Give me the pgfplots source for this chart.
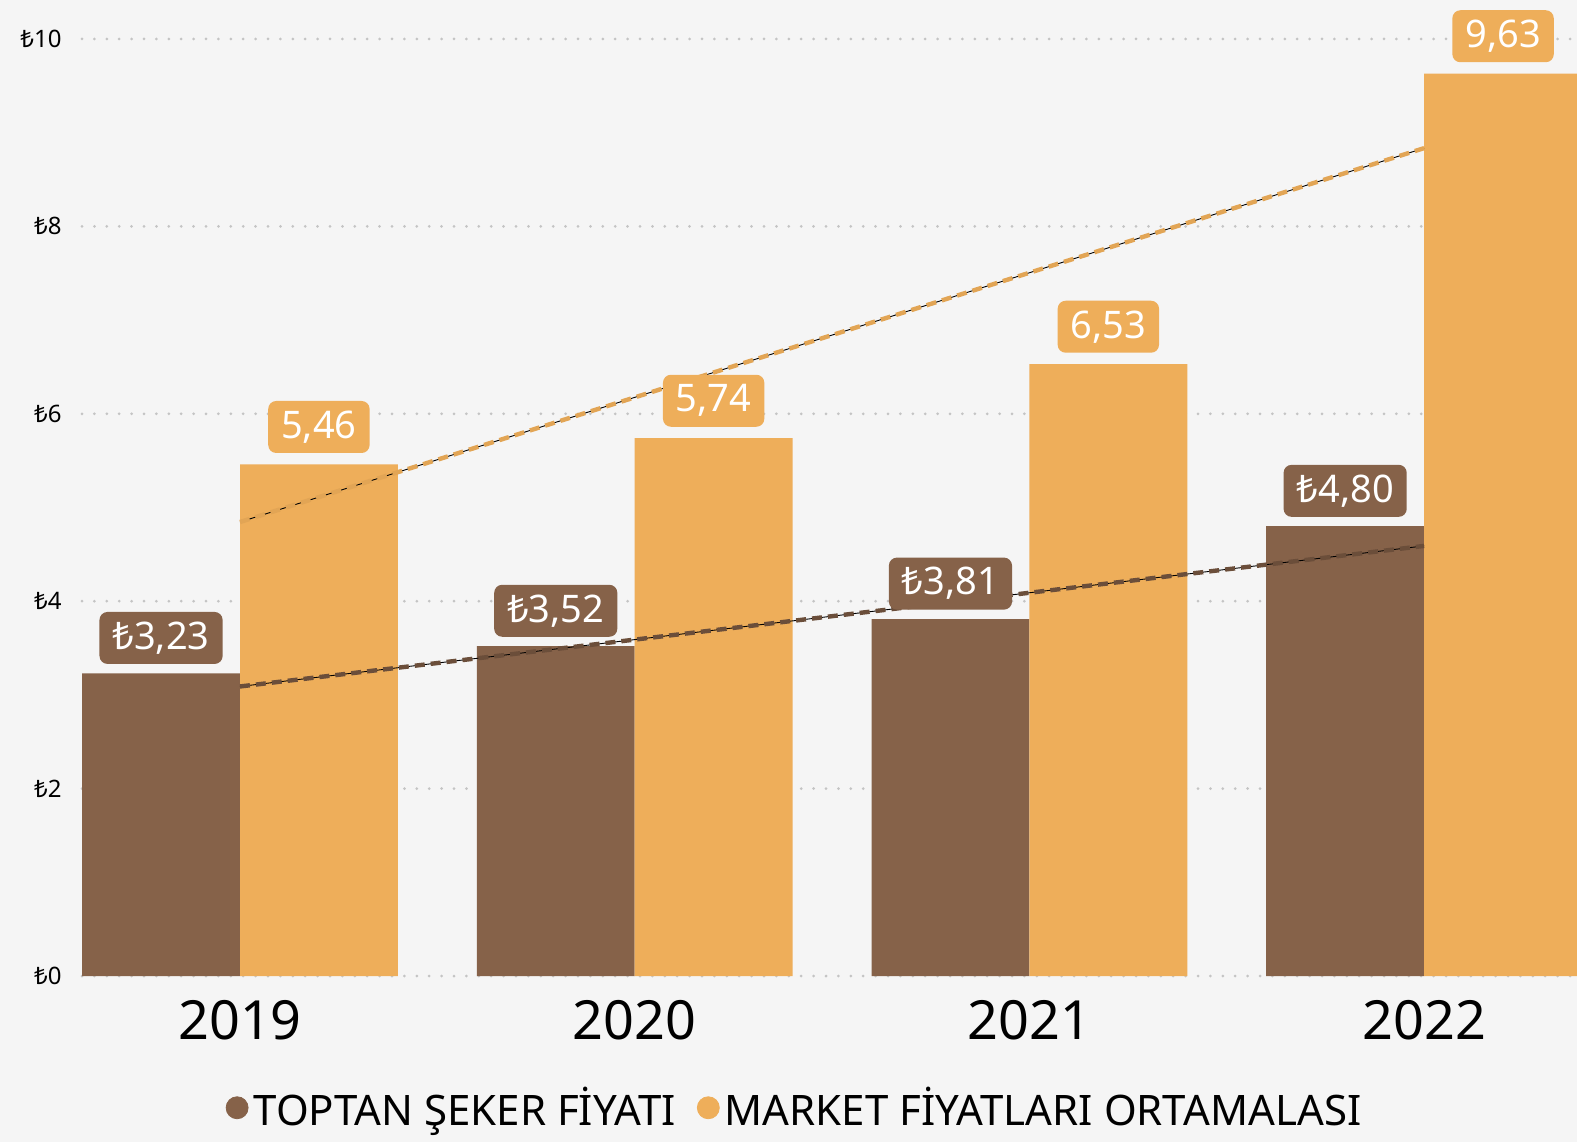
\documentclass[border=0pt]{standalone}
\usepackage{pgfplots}
\usepackage{pgfplotstable}
\pgfplotsset{compat=1.18}
\usepackage{fontspec}
\setmainfont{Noto Sans}
\definecolor{brownc}{HTML}{866249}
\definecolor{orangec}{HTML}{EEAE5A}
\definecolor{bgc}{HTML}{F5F5F5}
\definecolor{gridc}{HTML}{C4C4C4}
\pgfplotstableread{
x y lab
0 3.23 ₺3,23
1 3.52 ₺3,52
2 3.81 ₺3,81
3 4.80 ₺4,80
}\toptan
\pgfplotstableread{
x y lab
0 5.46 5,46
1 5.74 5,74
2 6.53 6,53
3 9.63 9,63
}\market
\begin{document}
\begin{tikzpicture}
\useasboundingbox (-41pt,-83pt) rectangle (747.5pt,488pt);
\fill[bgc] (-41pt,-83pt) rectangle (747.5pt,488pt);
\begin{axis}[
  at={(0,0)}, anchor=south west,
  scale only axis, width=747.5pt, height=488pt,
  xmin=-0.4003, xmax=3.3874, ymin=0, ymax=10.416,
  axis line style={draw=none}, major tick length=0pt, tick style={draw=none},
  ytick={0,2,4,6,8,10}, yticklabels={₺0,₺2,₺4,₺6,₺8,₺10},
  ymajorgrids, grid style={gridc, line width=1.5pt, line cap=round, dash pattern=on 0pt off 6.2pt},
  xtick={0,1,2,3}, xticklabels={2019,2020,2021,2022},
  xticklabel style={font=\fontsize{27}{32}\selectfont, inner sep=0pt, yshift=-12pt},
  yticklabel style={font=\fontsize{12}{14}\selectfont, inner sep=0pt, xshift=-10pt},
  bar width=0.4,
  legend entries={TOPTAN ŞEKER FİYATI, MARKET FİYATLARI ORTAMALASI},
  legend style={at={(0.4776,-0.135)}, anchor=center, draw=none, fill=none,
    legend columns=2, font=\fontsize{21}{25}\selectfont,
    nodes={inner xsep=2.5pt},
    /tikz/every even column/.append style={column sep=8pt}},
]
\addlegendimage{legend image code/.code={\fill[brownc] (0pt,0pt) circle (5.5pt);}}
\addlegendimage{legend image code/.code={\fill[orangec] (0pt,0pt) circle (5.5pt);}}
\addplot[ybar, bar shift=0pt, fill=brownc, draw=none, forget plot,
  point meta=explicit symbolic, nodes near coords,
  every node near coord/.append style={fill=brownc, text=white, rounded corners=4pt,
    font=\fontsize{19}{22}\selectfont, inner xsep=6.5pt, inner ysep=0pt, minimum height=26pt,
    anchor=south, yshift=4.5pt}]
  table[x expr=\thisrow{x}-0.2, y=y, meta=lab] {\toptan};
\addplot[ybar, bar shift=0pt, fill=orangec, draw=none, forget plot,
  point meta=explicit symbolic, nodes near coords,
  every node near coord/.append style={fill=orangec, text=white, rounded corners=4pt,
    font=\fontsize{19}{22}\selectfont, inner xsep=6.5pt, inner ysep=0pt, minimum height=26pt,
    anchor=south, yshift=5.5pt}]
  table[x expr=\thisrow{x}+0.2, y=y, meta=lab] {\market};
\addplot[black, line width=0.45pt, forget plot] coordinates {(0,3.09) (3,4.59)};
\addplot[brownc!80!black, line width=2.2pt, dash pattern=on 5pt off 3pt, forget plot] coordinates {(0,3.09) (3,4.59)};
\addplot[black, line width=0.45pt, forget plot] coordinates {(0,4.845) (3,8.835)};
\addplot[orangec!95!black, line width=2.2pt, dash pattern=on 5pt off 3pt, forget plot] coordinates {(0,4.845) (3,8.835)};
\end{axis}
\end{tikzpicture}
\end{document}
